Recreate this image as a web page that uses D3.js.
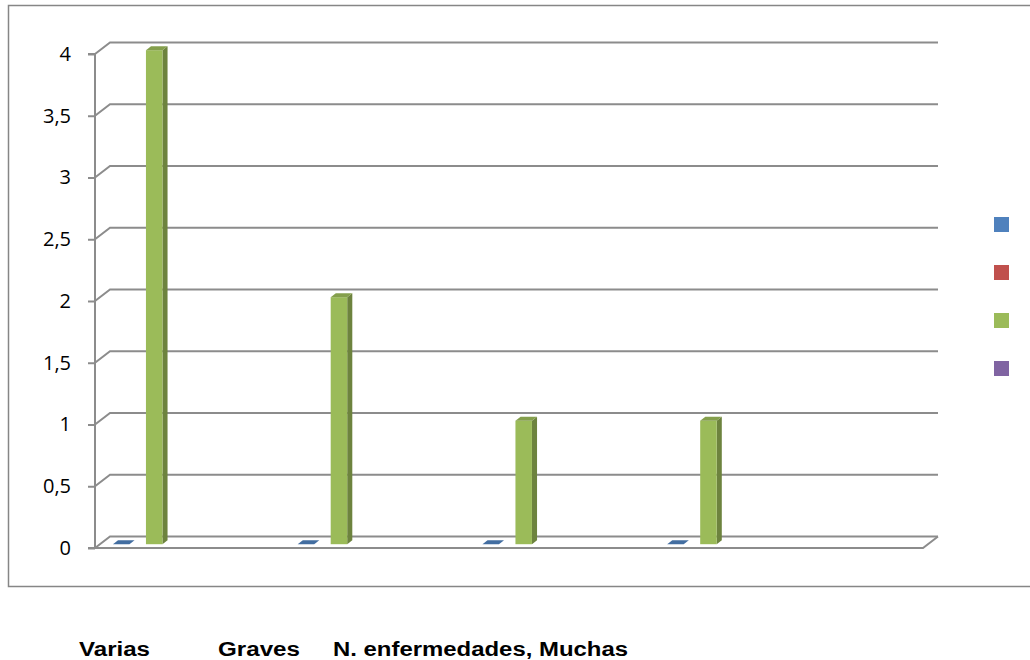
<!DOCTYPE html>
<html>
<head>
<meta charset="utf-8">
<script src="https://cdn.jsdelivr.net/npm/d3@7"></script>
<style>
  html, body { margin: 0; padding: 0; background: #ffffff; }
  svg { display: block; }
</style>
</head>
<body>
<script>
// Chart data
const categories = ["Varias", "Graves", "N. enfermedades", "Muchas"];
const seriesNames = ["Serie 1", "Serie 2", "Serie 3", "Serie 4"];
const seriesColors = ["#4f81bd", "#c0504d", "#9bbb59", "#8064a2"];
const serie1 = [0, 0, 0, 0];
const serie2 = [null, null, null, null];
const serie3 = [4, 2, 1, 1];
const serie4 = [null, null, null, null];
const yTicks = [0, 0.5, 1, 1.5, 2, 2.5, 3, 3.5, 4];
const bottomLabels = ["Varias", "Graves", "N. enfermedades, Muchas"];

const seriesValues = [serie1, serie2, serie3, serie4];

const W = 1030, H = 660;
const svg = d3.select("body").append("svg").attr("width", W).attr("height", H);

// Outer chart frame
svg.append("rect")
  .attr("x", 8.5).attr("y", 5.5)
  .attr("width", 1040).attr("height", 581)
  .attr("fill", "#ffffff")
  .attr("stroke", "#868686").attr("stroke-width", 1.5);

// Plot geometry (front plane + depth offset of the 3D box)
const axisX = 95, floorRight = 923;
const depthX = 15, depthY = -11.5;
const y = d3.scaleLinear().domain([0, 4]).range([548, 54]);
const x0 = d3.scaleBand().domain(categories).range([108, 847]).padding(0);
const x1 = d3.scaleBand().domain(seriesNames).range([0, 66]).padding(0);

const gridColor = "#8c8c8c";

// Back-wall gridlines with the slanted side-wall segment
const grid = svg.append("g");
yTicks.forEach(t => {
  const yy = y(t);
  grid.append("path")
    .attr("d", `M${axisX},${yy} L${axisX + depthX},${yy + depthY} L${floorRight + depthX},${yy + depthY}`)
    .attr("fill", "none")
    .attr("stroke", gridColor).attr("stroke-width", 2);
});

// Floor front edge and right slant
grid.append("path")
  .attr("d", `M${axisX},${y(0)} L${floorRight},${y(0)} L${floorRight + depthX},${y(0) + depthY}`)
  .attr("fill", "none")
  .attr("stroke", gridColor).attr("stroke-width", 2);

// 3D columns
const barFront = 0.33, barBack = 0.67;
const bars = svg.append("g");
seriesValues.forEach((vals, si) => {
  const base = d3.color(seriesColors[si]);
  const topCol = base.darker(0.45).formatHex();
  const sideCol = base.darker(1.0).formatHex();
  vals.forEach((v, ci) => {
    if (v === null || v === undefined) return;
    const xl = x0(categories[ci]) + x1(seriesNames[si]);
    const w = x1.bandwidth();
    const fx = depthX * barFront, fy = depthY * barFront;
    const bx = depthX * barBack, by = depthY * barBack;
    const y0 = y(0), yv = y(v);
    const xL = xl + fx, xR = xl + w + fx;
    const dX = bx - fx, dY = by - fy;
    if (v > 0) {
      // side face
      bars.append("path")
        .attr("d", `M${xR},${y0 + fy} L${xR + dX},${y0 + fy + dY} L${xR + dX},${yv + fy + dY} L${xR},${yv + fy} Z`)
        .attr("fill", sideCol);
      // front face
      bars.append("rect")
        .attr("x", xL).attr("y", yv + fy)
        .attr("width", w).attr("height", y0 - yv)
        .attr("fill", base.formatHex());
    }
    // top face
    bars.append("path")
      .attr("d", `M${xL},${yv + fy} L${xR},${yv + fy} L${xR + dX},${yv + fy + dY} L${xL + dX},${yv + fy + dY} Z`)
      .attr("fill", topCol);
  });
});

// Vertical axis
const yAxis = d3.axisLeft(y).tickValues(yTicks).tickSize(7).tickPadding(17)
  .tickFormat(d => d3.format("")(d).replace(".", ","));
const ax = svg.append("g").attr("transform", `translate(${axisX},0)`).call(yAxis);
ax.select(".domain").attr("stroke", gridColor).attr("stroke-width", 2)
  .attr("d", `M-7,${y(4)}H0V${y(0)}H-7`);
ax.selectAll(".tick line").attr("stroke", gridColor).attr("stroke-width", 2);
ax.selectAll(".tick text")
  .attr("font-family", "'Open Sans', 'Liberation Sans', Arial, sans-serif")
  .attr("font-size", 20).attr("fill", "#000000");

// Legend keys
const legend = svg.append("g");
seriesColors.forEach((c, i) => {
  legend.append("rect")
    .attr("x", 994).attr("y", 217 + i * 48)
    .attr("width", 15).attr("height", 15)
    .attr("fill", c);
});

// Category labels below the frame
const labelX = [79, 218, 333];
const labelW = [71, 82, 295];
bottomLabels.forEach((t, i) => {
  svg.append("text")
    .attr("x", labelX[i]).attr("y", 656)
    .attr("font-family", "'Liberation Sans', Arial, sans-serif")
    .attr("font-weight", "bold").attr("font-size", 20)
    .attr("textLength", labelW[i]).attr("lengthAdjust", "spacingAndGlyphs")
    .attr("fill", "#000000")
    .text(t);
});
</script>
</body>
</html>
